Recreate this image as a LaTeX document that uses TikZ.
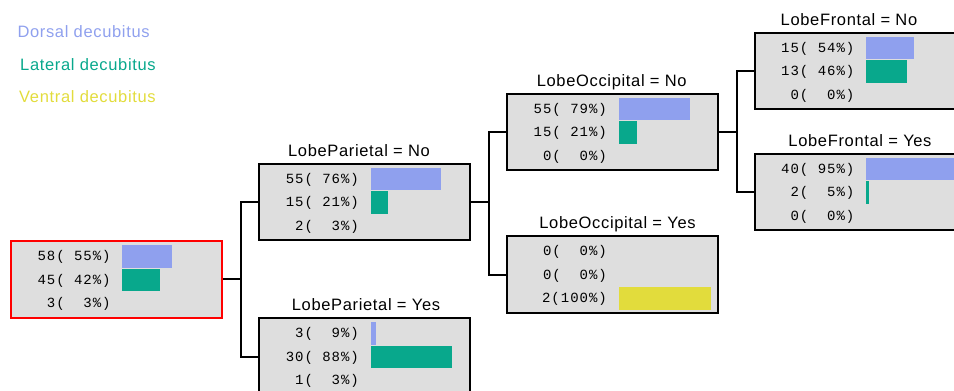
\documentclass[tikz,border=0pt]{standalone}
\usepackage{fontspec}
\setmainfont{Liberation Sans}
\newfontfamily\ttlfont[LetterSpace=4]{Liberation Sans}
\newfontfamily\cntfont[LetterSpace=7]{Liberation Mono}
\usetikzlibrary{positioning}
\definecolor{TDorsal}{HTML}{8FA0EE}
\definecolor{TLateral}{HTML}{08A88C}
\definecolor{TVentral}{HTML}{E2DC3C}
\definecolor{TFill}{HTML}{DEDEDE}

\begin{document}
\begin{tikzpicture}[
  x=1pt,y=-1pt,
  leaf/.style={draw=black,line width=2pt,fill=TFill,minimum width=211pt,minimum height=76.5pt,inner sep=0pt},
  rootleaf/.style={leaf,draw=red},
  ttl/.style={anchor=base,inner sep=0pt,font=\fontsize{16.5}{18}\ttlfont},
  lgd/.style={anchor=base west,inner sep=0pt,font=\fontsize{16.5}{18}\ttlfont},
  cnt/.style={anchor=base east,inner sep=0pt,font=\fontsize{14}{16}\cntfont},
  split/.style={line width=2pt,to path={-- ++(17.8,0) |- (\tikztotarget)}}
]
\clip (0,0) rectangle (954,391);

% legend
\node[lgd,text=TDorsal] (lgdors) at (17.3,37.3) {Dorsal decubitus};
\node[lgd,text=TLateral] (lglat) at (20,70) {Lateral decubitus};
\node[lgd,text=TVentral] (lgvent) at (19,102.7) {Ventral decubitus};

% boxes
\node[rootleaf] (root) at (116.3,279.3) {};
\node[leaf] (pno) at (364.6,201.9) {};
\node[leaf] (pyes) at (364.6,356.5) {};
\node[leaf] (ono) at (612.5,131.9) {};
\node[leaf] (oyes) at (612.5,274.7) {};
\node[leaf] (fno) at (860,70.9) {};
\node[leaf] (fyes) at (860,192) {};

% split labels
\node[ttl] (pnot) at ([xshift=-5.6pt,yshift=6.5pt]pno.north) {LobeParietal = No};
\node[ttl] (pyest) at ([xshift=1.4pt,yshift=6.5pt]pyes.north) {LobeParietal = Yes};
\node[ttl] (onot) at ([xshift=-0.8pt,yshift=6.5pt]ono.north) {LobeOccipital = No};
\node[ttl] (oyest) at ([xshift=5pt,yshift=6.5pt]oyes.north) {LobeOccipital = Yes};
\node[ttl] (fnot) at ([xshift=-11pt,yshift=6.5pt]fno.north) {LobeFrontal = No};
\node[ttl] (fyest) at ([yshift=6.5pt]fyes.north) {LobeFrontal = Yes};

% counts
\foreach \c [count=\i from 0] in {58(~55\%),45(~42\%),3(~~3\%)}
  \node[cnt] (root-\i) at ([shift={(101,-18.8+23.5*\i)}]root.west) {\c};
\foreach \c [count=\i from 0] in {55(~76\%),15(~21\%),2(~~3\%)}
  \node[cnt] (pno-\i) at ([shift={(101,-18.8+23.5*\i)}]pno.west) {\c};
\foreach \c [count=\i from 0] in {3(~~9\%),30(~88\%),1(~~3\%)}
  \node[cnt] (pyes-\i) at ([shift={(101,-18.8+23.5*\i)}]pyes.west) {\c};
\foreach \c [count=\i from 0] in {55(~79\%),15(~21\%),0(~~0\%)}
  \node[cnt] (ono-\i) at ([shift={(101,-18.8+23.5*\i)}]ono.west) {\c};
\foreach \c [count=\i from 0] in {0(~~0\%),0(~~0\%),2(100\%)}
  \node[cnt] (oyes-\i) at ([shift={(101,-18.8+23.5*\i)}]oyes.west) {\c};
\foreach \c [count=\i from 0] in {15(~54\%),13(~46\%),0(~~0\%)}
  \node[cnt] (fno-\i) at ([shift={(101,-18.8+23.5*\i)}]fno.west) {\c};
\foreach \c [count=\i from 0] in {40(~95\%),2(~~5\%),0(~~0\%)}
  \node[cnt] (fyes-\i) at ([shift={(101,-18.8+23.5*\i)}]fyes.west) {\c};

% bars
\fill[TDorsal] ([shift={(112.5,-34.25)}]root.west) rectangle +(49.7,22.5);
\fill[TLateral] ([shift={(112.5,-10.75)}]root.west) rectangle +(38,22.5);
\fill[TDorsal] ([shift={(112.5,-34.25)}]pno.west) rectangle +(70,22.5);
\fill[TLateral] ([shift={(112.5,-10.75)}]pno.west) rectangle +(17.3,22.5);
\fill[TDorsal] ([shift={(112.5,-34.25)}]pyes.west) rectangle +(5.7,22.5);
\fill[TLateral] ([shift={(112.5,-10.75)}]pyes.west) rectangle +(81.3,22.5);
\fill[TDorsal] ([shift={(112.5,-34.25)}]ono.west) rectangle +(71,22.5);
\fill[TLateral] ([shift={(112.5,-10.75)}]ono.west) rectangle +(18.4,22.5);
\fill[TVentral] ([shift={(112.5,12.75)}]oyes.west) rectangle +(92.3,22.5);
\fill[TDorsal] ([shift={(112.5,-34.25)}]fno.west) rectangle +(47.6,22.5);
\fill[TLateral] ([shift={(112.5,-10.75)}]fno.west) rectangle +(41,22.5);
\fill[TDorsal] ([shift={(112.5,-34.25)}]fyes.west) rectangle +(88,22.5);
\fill[TLateral] ([shift={(112.5,-10.75)}]fyes.west) rectangle +(2.7,22.5);

% links
\draw[split] (root.east) to (pno.west) (root.east) to (pyes.west);
\draw[split] (pno.east) to (ono.west) (pno.east) to (oyes.west);
\draw[split] (ono.east) to (fno.west) (ono.east) to (fyes.west);
\end{tikzpicture}
\end{document}
